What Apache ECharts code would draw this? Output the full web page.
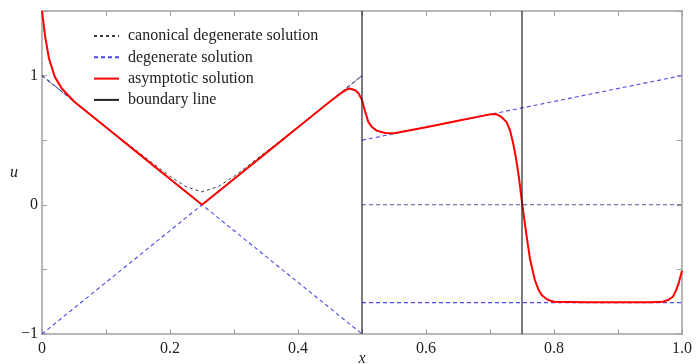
<!DOCTYPE html>
<html>
<head>
<meta charset="utf-8">
<script src="https://cdn.jsdelivr.net/npm/echarts@6/dist/echarts.min.js"></script>
<style>html,body{margin:0;padding:0;background:#fff}#c{width:700px;height:364px}</style>
</head>
<body>
<div id="c"></div>
<script>
// Canonical degenerate solution on [0, 0.5]
const canonX = [0, 0.05, 0.1, 0.15, 0.2, 0.225, 0.25, 0.275, 0.3, 0.35, 0.4, 0.45, 0.5];
const canonY = [1.0, 0.80, 0.60, 0.41, 0.22, 0.14, 0.10, 0.14, 0.22, 0.41, 0.60, 0.80, 1.0];
// Canonical degenerate solution on [0.5, 1]
const canon2X = [0.5, 1.0];
const canon2Y = [0, 0];
// Degenerate solution branches
const degAX = [0, 0.5], degAY = [1, -1];
const degBX = [0, 0.5], degBY = [-1, 1];
const degCX = [0.5, 1.0], degCY = [0.5, 1.0];
const degDX = [0.5, 1.0], degDY = [-0.757, -0.757];
// Asymptotic solution
const asymX = [0, 0.005, 0.011, 0.02, 0.031, 0.05, 0.1, 0.15, 0.2, 0.25, 0.3, 0.35, 0.4, 0.45, 0.466, 0.475, 0.481, 0.49, 0.495, 0.5, 0.505, 0.51, 0.516, 0.523, 0.536, 0.55, 0.6, 0.65, 0.7, 0.71, 0.718, 0.726, 0.731, 0.736, 0.74, 0.745, 0.7505, 0.756, 0.7625, 0.77, 0.776, 0.781, 0.79, 0.8, 0.85, 0.9, 0.95, 0.97, 0.979, 0.986, 0.99, 0.994, 1.0];
const asymY = [1.5, 1.3, 1.13, 0.99, 0.9, 0.8, 0.6, 0.4, 0.2, 0, 0.2, 0.4, 0.6, 0.8, 0.86, 0.89, 0.9, 0.885, 0.86, 0.81, 0.72, 0.64, 0.6, 0.574, 0.556, 0.553, 0.6, 0.65, 0.70, 0.70, 0.68, 0.64, 0.58, 0.48, 0.38, 0.22, 0, -0.2, -0.42, -0.58, -0.66, -0.70, -0.735, -0.75, -0.755, -0.755, -0.755, -0.75, -0.735, -0.71, -0.67, -0.62, -0.51];
// Boundary lines
const bound1X = [0.5, 0.5], bound1Y = [-1, 1.5];
const bound2X = [0.75, 0.75], bound2Y = [-1, 1.5];
// Legend / axis
const legendNames = ['canonical degenerate solution', 'degenerate solution', 'asymptotic solution', 'boundary line'];
const yTickLabels = {'-1': '\u22121', '0': '0', '1': '1'};

const zip = (xs, ys) => xs.map((x, i) => [x, ys[i]]);
const font = 'Liberation Serif, Times New Roman, serif';
const gridCol = '#a0a0a0';

const canonStyle = {color: '#3a3a3a', width: 1, type: [3, 3]};
const degStyle = {color: '#4a4ae6', width: 1.1, type: [4, 3]};

function lineSeries(name, data, style, z) {
  return {name, type: 'line', data, showSymbol: false, symbol: 'none', lineStyle: style,
    itemStyle: {color: style.color}, z: z || 2, animation: false, silent: true};
}

const series = [
  lineSeries(legendNames[0], zip(canonX, canonY), canonStyle, 3),
  lineSeries(legendNames[1], zip(degAX, degAY), degStyle, 2),
  lineSeries(legendNames[1], zip(degBX, degBY), degStyle, 2),
  lineSeries(legendNames[1], zip(degCX, degCY), degStyle, 2),
  lineSeries(legendNames[1], zip(degDX, degDY), degStyle, 2),
  lineSeries(legendNames[0], zip(canon2X, canon2Y), {color: '#5050a8', width: 1.1, type: [4, 3]}, 3),
  lineSeries(legendNames[2], zip(asymX, asymY), {color: '#ff0000', width: 2}, 4),
  lineSeries(legendNames[3], zip(bound1X, bound1Y), {color: '#222222', width: 1.2}, 5),
  lineSeries(legendNames[3], zip(bound2X, bound2Y), {color: '#222222', width: 1.2}, 5),
];

const axisCommon = {
  axisLine: {show: true, onZero: false, lineStyle: {color: gridCol, width: 1.5}},
  axisTick: {show: true, inside: true, length: 5, lineStyle: {color: gridCol}},
  splitLine: {show: false}
};

const chart = echarts.init(document.getElementById('c'), null, {renderer: 'canvas'});
chart.setOption({
  animation: false,
  backgroundColor: '#fff',
  grid: {left: 42, right: 18, top: 11, bottom: 30, containLabel: false, outerBoundsMode: 'none'},
  legend: {
    data: legendNames, orient: 'vertical', left: 88, top: 23,
    itemWidth: 25, itemHeight: 14, itemGap: 5.3,
    itemStyle: {opacity: 0},
    textStyle: {fontFamily: font, fontSize: 16, color: '#222', lineHeight: 14, padding: [0, 0, 0, 4]},
    selectedMode: false
  },
  xAxis: [Object.assign({
    type: 'value', min: 0, max: 1, interval: 0.1, position: 'bottom',
    name: 'x', nameLocation: 'middle', nameGap: 17, nameMoveOverlap: false,
    nameTextStyle: {fontFamily: font, fontStyle: 'italic', fontSize: 16, color: '#222'},
    axisLabel: {fontFamily: font, fontSize: 16, color: '#222', margin: 7,
      formatter: v => { const r = Math.round(v * 10); if (r % 2) return ''; return r === 0 ? '0' : (r / 10).toFixed(1); }}
  }, axisCommon), Object.assign({
    type: 'value', min: 0, max: 1, interval: 0.1, position: 'top',
    axisLabel: {show: false}
  }, axisCommon)],
  yAxis: [Object.assign({
    type: 'value', min: -1, max: 1.5, interval: 0.5, position: 'left',
    name: 'u', nameLocation: 'middle', nameGap: 24, nameRotate: 0, nameMoveOverlap: false,
    nameTextStyle: {fontFamily: font, fontStyle: 'italic', fontSize: 16, color: '#222', padding: [4, 0, 0, 0]},
    axisLabel: {fontFamily: font, fontSize: 16, color: '#222', margin: 4,
      formatter: v => { const k = String(Math.round(v * 10) / 10); return yTickLabels[k] !== undefined ? yTickLabels[k] : ''; }}
  }, axisCommon), Object.assign({
    type: 'value', min: -1, max: 1.5, interval: 0.5, position: 'right',
    axisLabel: {show: false}
  }, axisCommon)],
  series: series
});
</script>
</body>
</html>
